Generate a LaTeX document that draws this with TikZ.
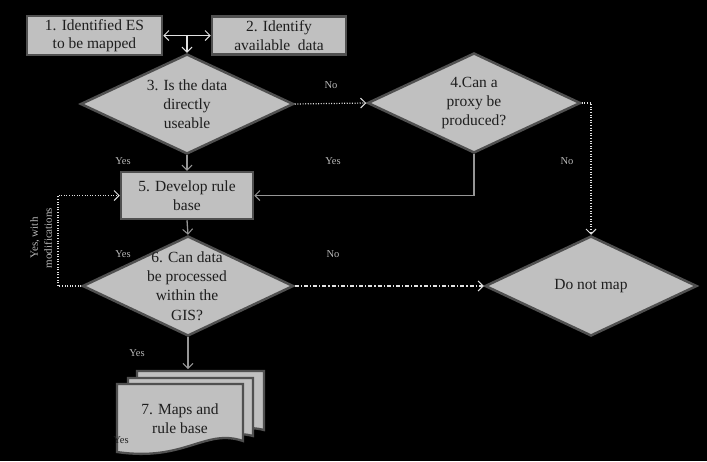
\documentclass[tikz,border=0pt]{standalone}
\usepackage{fontspec}
\setmainfont{Liberation Serif}
\usetikzlibrary{shapes.geometric,arrows.meta}
\definecolor{boxfill}{RGB}{192,192,192}
\definecolor{boxline}{RGB}{80,80,80}
\definecolor{conn}{RGB}{150,150,150}
\definecolor{dotc}{RGB}{225,225,225}
\definecolor{lblc}{RGB}{185,185,185}
\definecolor{txtc}{RGB}{30,30,30}
\begin{document}
\begin{tikzpicture}[x=1pt,y=-1pt,
  box/.style={draw=boxline,fill=boxfill,line width=2.5pt,inner sep=0pt,align=center,text=txtc,font=\fontsize{15.5}{18.5}\selectfont},
  dia/.style={diamond,draw=boxline,fill=boxfill,line width=2.5pt,inner sep=0pt,minimum width=213pt,minimum height=100pt},
  dtxt/.style={align=center,text=txtc,inner sep=0pt,font=\fontsize{15.5}{19.3}\selectfont},
  lbl/.style={text=lblc,inner sep=0pt,font=\fontsize{10.5}{12}\selectfont},
  tip/.style={-{Straight Barb[length=5pt,width=10pt,line width=1pt]}},
  solidc/.style={draw=conn,line width=1.3pt},
  dotl/.style={draw=dotc,line width=1.2pt,dash pattern=on 1pt off 1.6pt},
  dashl/.style={draw=dotc,line width=1.2pt,dash pattern=on 4pt off 2pt on 1.2pt off 2pt}
]
\fill[black] (0,0) rectangle (707,461);
\useasboundingbox (0,0) rectangle (707,461);

% boxes
\node[box,minimum width=135pt,minimum height=39pt] (b1) at (94.5,35.5) {1. Identified ES\\to be mapped};
\node[box,minimum width=134pt,minimum height=38pt] (b2) at (279,35.5) {2. Identify\\available~ data};
\node[box,minimum width=132pt,minimum height=47pt] (b5) at (187,195.5) {5. Develop rule\\base};

% diamonds
\node[dia] (d3) at (187,104) {};
\node[dtxt] (t3) at (d3) {3. Is the data\\directly\\useable};
\node[dia] (d4) at (474,103) {};
\node[dtxt] (t4) at (d4) {4.Can a\\proxy be\\produced?};
\node[dia,minimum width=211pt] (d6) at (188,286) {};
\node[dtxt] (t6) at (187,286) {6. Can data\\be processed\\within the\\GIS?};
\node[dia,minimum width=212pt] (dn) at (591,286) {};
\node[dtxt] (tn) at (dn) {Do not map};

% document stack
\begin{scope}[draw=boxline,fill=boxfill,line width=2.3pt]
\filldraw (137,371) -- (264,371) -- (264,430) .. controls (240,424) and (225,434) .. (200,438) -- (137,438) -- cycle;
\filldraw (128,378) -- (253,378) -- (253,436) .. controls (230,430) and (215,440) .. (190,444) -- (128,444) -- cycle;
\filldraw (117,384) -- (243,384) -- (243,441) .. controls (205,428) and (185,462) .. (117,452) -- cycle;
\end{scope}
\coordinate (doctop) at (188,369);
\node[dtxt] (t7) at (180,419) {7. Maps and\\rule base};

% connectors
\coordinate (m12) at (187,35.5);
\draw[solidc,draw=dotc,{Straight Barb[length=5pt,width=10pt,line width=1pt]}-{Straight Barb[length=5pt,width=10pt,line width=1pt]}] (b1.east) -- (b2.west);
\draw[solidc,draw=dotc,tip] (m12) -- (d3.north);
\draw[solidc,tip] (d3.south) -- (b5.north);
\draw[dotl,tip] (d3.east) -- (d4.west);
\coordinate (c4) at (474,195.5);
\draw[solidc,tip] (d4.south) -- (c4) -- (b5.east);
\coordinate (c4r) at (591,103);
\draw[dotl,tip] (d4.east) -- (c4r) -- (dn.north);
\draw[solidc,tip] (b5.south) -- (d6.north);
\coordinate (lp1) at (58,286);
\coordinate (lp2) at (58,195.5);
\draw[dotl,tip] (d6.west) -- (lp1) -- (lp2) -- (b5.west);
\draw[dashl,tip] (d6.east) -- (dn.west);
\draw[solidc,tip] (d6.south) -- (doctop);

% labels
\node[lbl] (l1) at (331,85) {No};
\node[lbl] (l2) at (123,161) {Yes};
\node[lbl] (l3) at (333,161) {Yes};
\node[lbl] (l4) at (567,161) {No};
\node[lbl] (l5) at (123,254) {Yes};
\node[lbl] (l6) at (333,254) {No};
\node[lbl] (l7) at (137,353) {Yes};
\node[lbl,text=txtc] (l8) at (121,440) {Yes};
\node[lbl,rotate=90,align=center,font=\fontsize{11}{14}\selectfont] (l9) at (41,238) {Yes, with\\modifications};
\end{tikzpicture}
\end{document}
